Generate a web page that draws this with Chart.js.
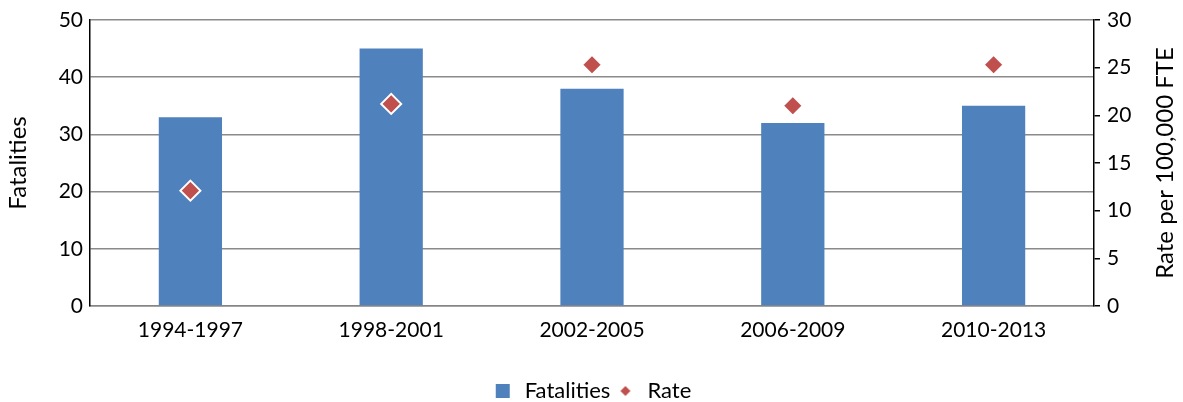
<!DOCTYPE html>
<html>
<head>
<meta charset="utf-8">
<script src="https://cdn.jsdelivr.net/npm/chart.js@4/dist/chart.umd.min.js"></script>
<style>
html,body{margin:0;padding:0;background:#fff;}
#wrap{width:1183px;height:402px;position:relative;}
</style>
</head>
<body>
<div id="wrap"><canvas id="c"></canvas></div>
<script>
const categories = ['1994-1997', '1998-2001', '2002-2005', '2006-2009', '2010-2013'];
const fatalities = [33, 45, 38, 32, 35];
const rates = [12.1, 21.2, 25.3, 21.0, 25.3];
const leftTicks = [0, 10, 20, 30, 40, 50];
const rightTicks = [0, 5, 10, 15, 20, 25, 30];
const leftTitle = 'Fatalities';
const rightTitle = 'Rate per 100,000 FTE';

const BLUE = '#4F81BD';
const RED = '#C0504D';
const FONT = 'Lato, "Open Sans", sans-serif';

function makeLegendIcon(kind) {
  const cv = document.createElement('canvas');
  cv.width = 16; cv.height = 16;
  const g = cv.getContext('2d');
  if (kind === 'rect') {
    g.fillStyle = BLUE;
    g.fillRect(1, 1, 14, 14);
  } else {
    g.fillStyle = RED;
    g.beginPath();
    g.moveTo(8, 3); g.lineTo(13, 8); g.lineTo(8, 13); g.lineTo(3, 8); g.closePath();
    g.fill();
  }
  return cv;
}
const iconBar = makeLegendIcon('rect');
const iconRate = makeLegendIcon('diamond');

const rightTitlePlugin = {
  id: 'rightTitle',
  afterDraw(chart) {
    const s = chart.scales.y1;
    const ctx = chart.ctx;
    ctx.save();
    ctx.font = '24px ' + FONT;
    ctx.fillStyle = '#000';
    ctx.textAlign = 'center';
    ctx.textBaseline = 'middle';
    ctx.translate(1165, (s.top + s.bottom) / 2);
    ctx.rotate(-Math.PI / 2);
    ctx.fillText(rightTitle, 0, 0);
    ctx.restore();
  }
};

new Chart(document.getElementById('c'), {
  data: {
    labels: categories,
    datasets: [
      {
        type: 'line',
        label: 'Rate',
        data: rates,
        yAxisID: 'y1',
        showLine: false,
        pointStyle: 'rectRot',
        pointRadius: 10,
        pointHoverRadius: 10,
        pointBackgroundColor: RED,
        pointBorderColor: '#ffffff',
        pointBorderWidth: 2,
        order: 0
      },
      {
        type: 'bar',
        label: 'Fatalities',
        data: fatalities,
        yAxisID: 'y',
        backgroundColor: BLUE,
        borderWidth: 0,
        barPercentage: 0.315,
        categoryPercentage: 1.0,
        order: 1
      }
    ]
  },
  plugins: [rightTitlePlugin],
  options: {
    responsive: true,
    maintainAspectRatio: false,
    animation: false,
    layout: { padding: { top: 20, bottom: -10, left: 0, right: 0 } },
    plugins: {
      tooltip: { enabled: false },
      legend: {
        position: 'bottom',
        labels: {
          font: { family: FONT, size: 22 },
          color: '#000',
          usePointStyle: true,
          padding: 4,
          generateLabels: function(chart) {
            return [
              { text: 'Fatalities', pointStyle: iconBar, fillStyle: BLUE, strokeStyle: BLUE, lineWidth: 0, datasetIndex: 1, hidden: false, fontColor: '#000' },
              { text: 'Rate', pointStyle: iconRate, fillStyle: RED, strokeStyle: RED, lineWidth: 0, datasetIndex: 0, hidden: false, fontColor: '#000' }
            ];
          }
        }
      }
    },
    scales: {
      x: {
        grid: { display: false, drawTicks: false },
        border: { display: true, color: '#868686', width: 1.5 },
        ticks: { font: { family: FONT, size: 21 }, color: '#000', padding: 12, maxRotation: 0 },
        afterFit: function(s) { s.height = 70; }
      },
      y: {
        position: 'left',
        min: 0, max: 50,
        afterBuildTicks: function(s) { s.ticks = leftTicks.map(v => ({ value: v })); },
        grid: { color: '#8a8a8a', lineWidth: 1.5, drawTicks: false },
        border: { display: true, color: '#000', width: 1.5 },
        ticks: { font: { family: FONT, size: 21 }, color: '#000', padding: 7 },
        title: { display: true, text: leftTitle, font: { family: FONT, size: 24 }, color: '#000', padding: { top: 4, bottom: 2 } },
        afterFit: function(s) { s.width = 90; }
      },
      y1: {
        position: 'right',
        min: 0, max: 30,
        afterBuildTicks: function(s) { s.ticks = rightTicks.map(v => ({ value: v })); },
        grid: { drawOnChartArea: false, drawTicks: true, tickLength: 6, color: '#000', lineWidth: 1.5 },
        border: { display: true, color: '#000', width: 1.5 },
        ticks: { font: { family: FONT, size: 21 }, color: '#000', padding: 7 },
        title: { display: false },
        afterFit: function(s) { s.width = 89; }
      }
    }
  }
});
</script>
</body>
</html>
